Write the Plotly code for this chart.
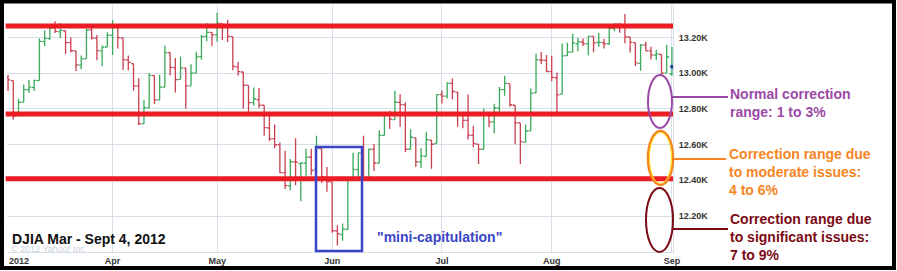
import plotly.graph_objects as go

# ---------------- data ----------------
dates = (
    ["2012-03-%02d" % d for d in [5, 6, 7, 8, 9, 12, 13, 14, 15, 16, 19, 20, 21, 22, 23, 26, 27, 28, 29, 30]]
    + ["2012-04-%02d" % d for d in [2, 3, 4, 5, 9, 10, 11, 12, 13, 16, 17, 18, 19, 20, 23, 24, 25, 26, 27, 30]]
    + ["2012-05-%02d" % d for d in [1, 2, 3, 4, 7, 8, 9, 10, 11, 14, 15, 16, 17, 18, 21, 22, 23, 24, 25, 29, 30, 31]]
    + ["2012-06-%02d" % d for d in [1, 4, 5, 6, 7, 8, 11, 12, 13, 14, 15, 18, 19, 20, 21, 22, 25, 26, 27, 28, 29]]
    + ["2012-07-%02d" % d for d in [2, 3, 5, 6, 9, 10, 11, 12, 13, 16, 17, 18, 19, 20, 23, 24, 25, 26, 27, 30, 31]]
    + ["2012-08-%02d" % d for d in [1, 2, 3, 6, 7, 8, 9, 10, 13, 14, 15, 16, 17, 20, 21, 22, 23, 24, 27, 28, 29, 30, 31]]
    + ["2012-09-04"]
)

opens = [
    12977, 12958, 12762, 12838, 12907, 12920, 12958, 13176, 13193, 13253, 13231, 13237, 13170, 13124, 13045, 13081, 13242, 13196, 13124, 13146,
    13211, 13264, 13197, 13074, 13053, 12929, 12717, 12805, 12986, 12850, 12922, 13114, 13031, 12965, 13028, 12929, 13000, 13092, 13205, 13228,
    13214, 13277, 13267, 13204, 13035, 13006, 12931, 12835, 12852, 12820, 12694, 12633, 12598, 12442, 12369, 12503, 12493, 12496, 12529, 12461, 12577, 12418,
    12391, 12117, 12097, 12125, 12416, 12460, 12555, 12411, 12573, 12496, 12651, 12765, 12740, 12836, 12822, 12574, 12638, 12503, 12534, 12625, 12606,
    12879, 12871, 12942, 12894, 12770, 12736, 12652, 12603, 12574, 12775, 12727, 12804, 12907, 12941, 12820, 12721, 12614, 12677, 12889, 13073, 13071,
    13008, 12974, 12882, 13098, 13117, 13164, 13174, 13163, 13205, 13172, 13171, 13164, 13250, 13272, 13271, 13202, 13171, 13054, 13158, 13124, 13101, 13104, 13000,
    12995,
]
highs = [
    12989, 12958, 12857, 12936, 12961, 12963, 13194, 13239, 13253, 13290, 13280, 13237, 13200, 13124, 13098, 13248, 13270, 13213, 13155, 13229,
    13297, 13265, 13197, 13099, 13053, 12971, 12848, 12999, 12986, 12991, 13153, 13115, 13085, 13092, 13028, 13049, 13119, 13214, 13280, 13228,
    13338, 13277, 13298, 13204, 13062, 13006, 12931, 12920, 12916, 12820, 12758, 12713, 12612, 12566, 12520, 12635, 12493, 12577, 12577, 12650, 12577, 12474,
    12391, 12149, 12159, 12414, 12555, 12555, 12650, 12575, 12603, 12680, 12768, 12790, 12901, 12881, 12837, 12686, 12638, 12580, 12672, 12625, 12880,
    12902, 12949, 12970, 12894, 12770, 12880, 12705, 12603, 12802, 12775, 12828, 12922, 12985, 12941, 12820, 12721, 12712, 12914, 13108, 13118, 13101,
    13097, 13003, 13165, 13170, 13220, 13197, 13194, 13208, 13205, 13226, 13192, 13259, 13278, 13280, 13331, 13202, 13171, 13163, 13176, 13148, 13130, 13104, 13159,
    13146,
]
lows = [
    12900, 12741, 12762, 12838, 12889, 12900, 12958, 13151, 13187, 13225, 13196, 13108, 13117, 13012, 13022, 13081, 13188, 13072, 13040, 13146,
    13101, 13137, 13017, 13016, 12902, 12710, 12717, 12805, 12825, 12850, 12922, 12986, 12891, 12965, 12801, 12929, 13000, 13074, 13178, 13150,
    13176, 13185, 13174, 13016, 12986, 12800, 12770, 12817, 12805, 12650, 12619, 12580, 12441, 12351, 12345, 12372, 12283, 12409, 12428, 12461, 12385, 12336,
    12107, 12035, 12062, 12125, 12416, 12398, 12402, 12411, 12452, 12496, 12651, 12688, 12740, 12700, 12558, 12574, 12475, 12467, 12534, 12465, 12606,
    12830, 12858, 12853, 12700, 12691, 12628, 12585, 12492, 12574, 12697, 12663, 12763, 12873, 12812, 12602, 12492, 12614, 12677, 12889, 13049, 13007,
    12954, 12778, 12882, 13096, 13117, 13122, 13151, 13100, 13117, 13147, 13138, 13157, 13234, 13226, 13167, 13115, 13039, 13013, 13124, 13076, 13072, 12987, 13000,
    12985,
]
closes = [
    12962, 12759, 12837, 12907, 12922, 12959, 13177, 13194, 13252, 13233, 13239, 13170, 13125, 13046, 13080, 13241, 13197, 13126, 13145, 13212,
    13264, 13199, 13075, 13060, 12929, 12716, 12806, 12987, 12850, 12921, 13115, 13032, 12964, 13029, 12928, 13001, 13090, 13204, 13228, 13214,
    13279, 13268, 13206, 13038, 13008, 12932, 12835, 12855, 12821, 12695, 12632, 12599, 12443, 12370, 12504, 12502, 12497, 12530, 12455, 12580, 12420, 12393,
    12118, 12101, 12127, 12414, 12461, 12554, 12411, 12574, 12497, 12652, 12767, 12742, 12837, 12824, 12574, 12641, 12503, 12535, 12627, 12602, 12880,
    12871, 12943, 12897, 12772, 12736, 12653, 12605, 12573, 12777, 12727, 12806, 12908, 12943, 12823, 12721, 12617, 12676, 12888, 13075, 13073, 13009,
    12976, 12878, 13096, 13117, 13169, 13175, 13165, 13207, 13169, 13172, 13164, 13250, 13275, 13271, 13203, 13173, 13057, 13157, 13124, 13102, 13107, 13000, 13090,
    13035,
]

month_ticks = ["2012-04-02", "2012-05-01", "2012-06-01", "2012-07-02", "2012-08-01", "2012-09-04"]
month_labels = ["Apr", "May", "Jun", "Jul", "Aug", "Sep"]
year_label = "2012"
y_ticks = [12200, 12400, 12600, 12800, 13000, 13200]
y_labels = ["12.20K", "12.40K", "12.60K", "12.80K", "13.00K", "13.20K"]
levels = [13263, 12771, 12409]  # red support / resistance lines

# ---------------- geometry ----------------
W, H = 897, 271
L, R, T, B = 7, 224, 5, 19
PW, PH = W - L - R, H - T - B


def px(x):
    return (x - L) / PW


def py(y):
    return (H - B - y) / PH


FONT = "Liberation Sans, Arial, sans-serif"

fig = go.Figure()
fig.add_trace(go.Ohlc(
    x=dates, open=opens, high=highs, low=lows, close=closes,
    increasing=dict(line=dict(color="#3aa95a", width=1.3)),
    decreasing=dict(line=dict(color="#c9404f", width=1.3)),
    tickwidth=0.45, showlegend=False, hoverinfo="skip",
))
fig.add_trace(go.Scatter(
    x=[dates[-1]], y=[closes[-1]], mode="markers",
    marker=dict(color="#1f4f9c", size=4), cliponaxis=False,
    showlegend=False, hoverinfo="skip",
))

shapes = []
# red horizontal levels
for lv in levels:
    shapes.append(dict(type="line", xref="paper", yref="y", x0=-0.002, x1=1.0, y0=lv, y1=lv,
                       line=dict(color="#ec1c24", width=5), layer="above"))

# mini-capitulation box
shapes.append(dict(type="rect", xref="paper", yref="paper",
                   x0=px(316), x1=px(362), y0=py(251), y1=py(147),
                   line=dict(color="#3a44c8", width=2.5), layer="above"))

# ellipses and connectors
shapes.append(dict(type="circle", xref="paper", yref="paper",
                   x0=px(648), x1=px(672), y0=py(128), y1=py(75),
                   line=dict(color="#9b49a6", width=2), layer="above"))
shapes.append(dict(type="line", xref="paper", yref="paper",
                   x0=px(672), x1=px(728), y0=py(97), y1=py(97),
                   line=dict(color="#9b49a6", width=2), layer="above"))

shapes.append(dict(type="circle", xref="paper", yref="paper",
                   x0=px(648), x1=px(673), y0=py(185), y1=py(131),
                   line=dict(color="#f7851f", width=2.5), layer="above"))
shapes.append(dict(type="circle", xref="paper", yref="paper",
                   x0=px(649.5), x1=px(671.5), y0=py(183.5), y1=py(132.5),
                   line=dict(color="#ffe31a", width=1), layer="above"))
shapes.append(dict(type="line", xref="paper", yref="paper",
                   x0=px(673), x1=px(726), y0=py(159), y1=py(159),
                   line=dict(color="#f7851f", width=2), layer="above"))

shapes.append(dict(type="circle", xref="paper", yref="paper",
                   x0=px(646), x1=px(673), y0=py(252), y1=py(188),
                   line=dict(color="#7b0a14", width=2), layer="above"))
shapes.append(dict(type="line", xref="paper", yref="paper",
                   x0=px(673), x1=px(728), y0=py(229), y1=py(229),
                   line=dict(color="#7b0a14", width=2), layer="above"))

# outer black frame
shapes.append(dict(type="rect", xref="paper", yref="paper",
                   x0=px(2), x1=px(894), y0=py(268), y1=py(1.5),
                   line=dict(color="#000000", width=4), layer="above"))

annotations = [
    dict(text=year_label, x=px(7), y=py(261), xref="paper", yref="paper",
         xanchor="left", yanchor="middle", showarrow=False,
         font=dict(family=FONT, size=9, color="#333333", weight="bold")),
    dict(text="© 2012 Yahoo! Inc.", x=px(9), y=py(249), xref="paper", yref="paper",
         xanchor="left", yanchor="middle", showarrow=False,
         font=dict(family=FONT, size=9, color="#ccd3dc")),
    dict(text="DJIA Mar - Sept 4, 2012", x=px(10), y=py(239), xref="paper", yref="paper",
         xanchor="left", yanchor="middle", showarrow=False,
         font=dict(family=FONT, size=14, color="#111111", weight="bold")),
    dict(text='"mini-capitulation"', x=px(375), y=py(237), xref="paper", yref="paper",
         xanchor="left", yanchor="middle", showarrow=False,
         font=dict(family=FONT, size=14, color="#3b45c6", weight="bold")),
    dict(text="Normal correction<br>range: 1 to 3%", x=px(728), y=py(103), xref="paper", yref="paper",
         xanchor="left", yanchor="middle", align="left", showarrow=False,
         font=dict(family=FONT, size=14, color="#9b49a6", weight="bold")),
    dict(text="Correction range due<br>to moderate issues:<br>4 to 6%", x=px(727), y=py(172), xref="paper", yref="paper",
         xanchor="left", yanchor="middle", align="left", showarrow=False,
         font=dict(family=FONT, size=14, color="#f7851f", weight="bold")),
    dict(text="Correction range due<br>to significant issues:<br>7 to 9%", x=px(728), y=py(237), xref="paper", yref="paper",
         xanchor="left", yanchor="middle", align="left", showarrow=False,
         font=dict(family=FONT, size=14, color="#7b0a14", weight="bold")),
]

fig.update_layout(
    width=W, height=H,
    margin=dict(l=L, r=R, t=T, b=B, pad=0),
    paper_bgcolor="white", plot_bgcolor="white",
    shapes=shapes, annotations=annotations,
    xaxis=dict(
        type="category", range=[-0.2, 127.2],
        tickvals=month_ticks, ticktext=month_labels,
        showgrid=True, gridcolor="#d6dfe8", gridwidth=1,
        showline=True, linecolor="#d6dfe8", linewidth=1,
        ticks="", rangeslider=dict(visible=False),
        tickfont=dict(family=FONT, size=9, color="#333333", weight="bold"),
        fixedrange=True,
    ),
    yaxis=dict(
        side="right", range=[11999, 13381],
        tickvals=y_ticks, ticktext=y_labels,
        showgrid=True, gridcolor="#d6dfe8", gridwidth=1,
        showline=True, linecolor="#d6dfe8", linewidth=1,
        ticks="", zeroline=False, ticklabelstandoff=3,
        tickfont=dict(family=FONT, size=9, color="#333333", weight="bold"),
        fixedrange=True,
    ),
)

fig.write_html("out.html")
